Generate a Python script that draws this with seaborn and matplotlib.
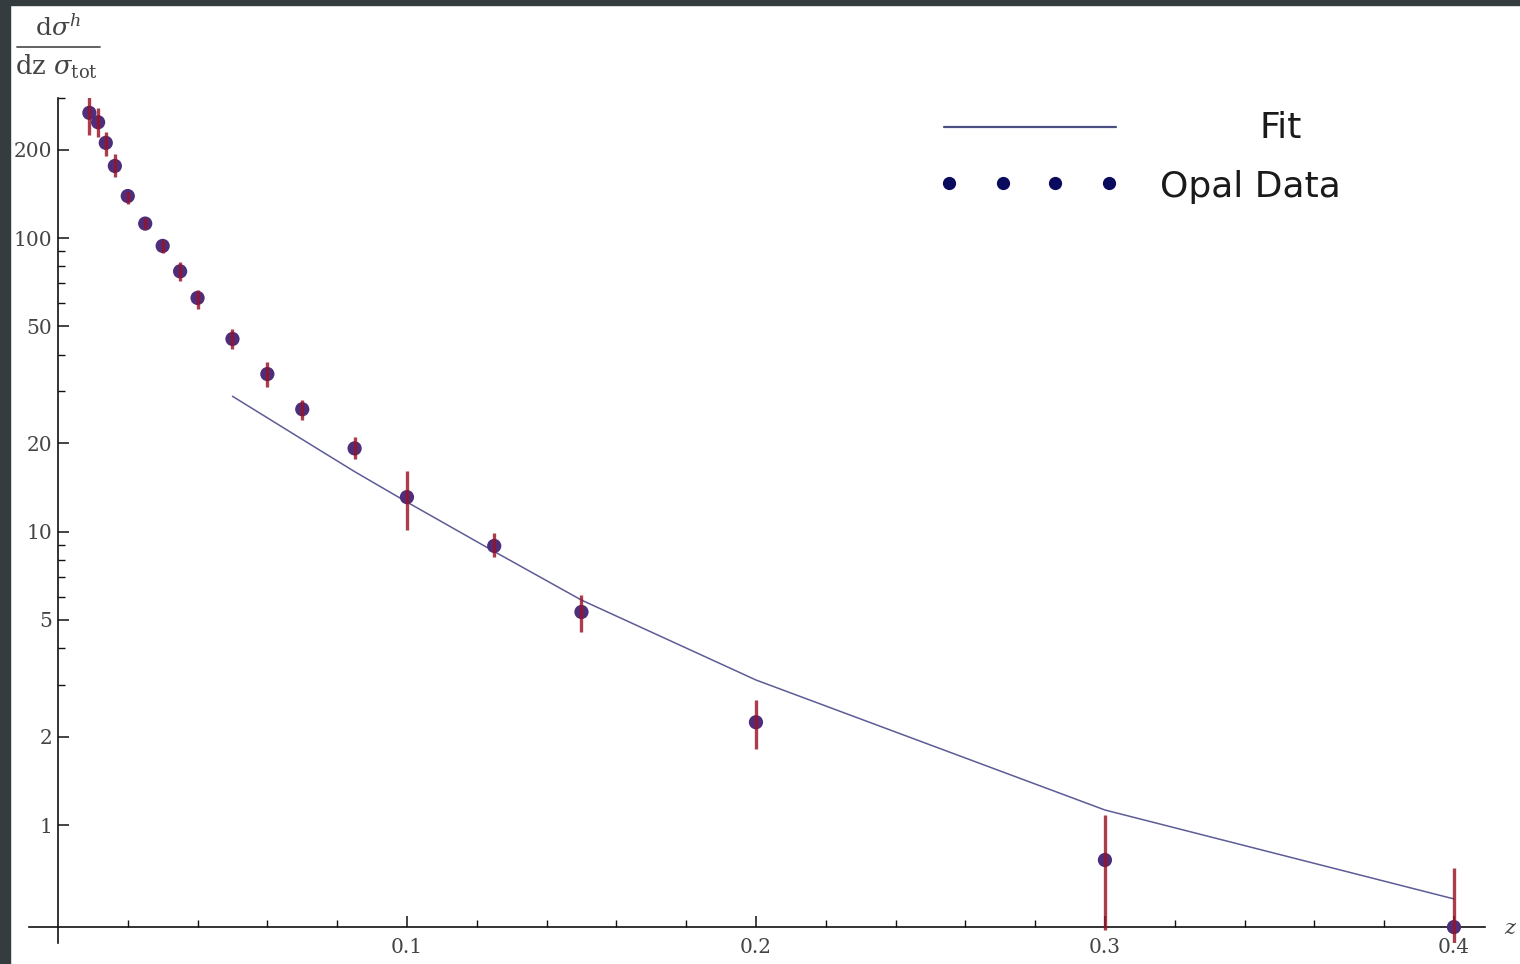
import numpy as np
import seaborn as sns
import matplotlib.pyplot as plt
from matplotlib.lines import Line2D
from matplotlib.patches import Rectangle
from matplotlib.ticker import FixedLocator, NullFormatter

# OPAL data
z_data = [0.009, 0.0115, 0.0137, 0.0163, 0.02, 0.025, 0.03, 0.035, 0.04, 0.05,
          0.06, 0.07, 0.085, 0.1, 0.125, 0.15, 0.2, 0.3, 0.4]
xs_data = [267, 248, 211, 176, 139, 112, 94, 77, 62.5, 45.3,
           34.4, 26.1, 19.2, 13.1, 8.93, 5.32, 2.24, 0.76, 0.449]
err_lo = [43, 27, 21, 15, 8, 4.5, 5, 5.5, 5, 3.3,
          3.3, 2.1, 1.6, 3.0, 0.75, 0.77, 0.43, 0.32, 0.265]
err_hi = [40, 29, 19, 17, 5, 5, 4.5, 5.8, 4, 3.7,
          3.4, 2.0, 1.8, 3.0, 0.97, 0.76, 0.43, 0.32, 0.265]

# fit evaluated at the data points
z_fit = [0.05, 0.06, 0.07, 0.085, 0.1, 0.125, 0.15, 0.2, 0.3, 0.4]
xs_fit = [28.9, 24.4, 20.6, 16.0, 12.6, 8.55, 5.84, 3.12, 1.125, 0.56]

y_major = [1, 2, 5, 10, 20, 50, 100, 200]
y_minor = [3, 4, 6, 7, 8, 9, 30, 40, 60, 70, 80, 90, 300]
x_major = [0.1, 0.2, 0.3, 0.4]
x_minor = [0.02, 0.04, 0.06, 0.08, 0.12, 0.14, 0.16, 0.18, 0.22, 0.24, 0.26,
           0.28, 0.32, 0.34, 0.36, 0.38]

sns.set_theme(style="white")
plt.rcParams['mathtext.fontset'] = 'dejavuserif'

W, H = 1520, 964
fig = plt.figure(figsize=(W / 100, H / 100), dpi=100)
fig.patch.set_facecolor("white")
# dark frame of the screenshot
fig.add_artist(Rectangle((0, 0), 10 / W, 1, transform=fig.transFigure, color="#353c3f", zorder=0))
fig.add_artist(Rectangle((0, 1 - 5 / H), 1, 5 / H, transform=fig.transFigure, color="#353c3f", zorder=0))

ax = fig.add_axes([29 / W, 1 - 943 / H, (1485 - 29) / W, (943 - 98) / H])
ax.set_facecolor("white")
ax.set_yscale("log")
ax.set_xlim(-0.0083, 0.4089)
ax.set_ylim(0.3963, 300)

# fit line
sns.lineplot(x=z_fit, y=xs_fit, ax=ax, color="#5c5c96", linewidth=1.1, zorder=2)

# data points + error bars
sns.scatterplot(x=z_data, y=xs_data, ax=ax, color="#4e2e7a", s=105, edgecolor="none", zorder=3)
lo = np.array(xs_data) - np.array(err_lo)
hi = np.array(xs_data) + np.array(err_hi)
lo = np.where(lo <= 0, 0.1, lo)
ax.vlines(z_data, lo, hi, color="#9a1226", linewidth=2.4, alpha=0.82, zorder=4)

# axes in Mathematica style
for s in ["top", "right"]:
    ax.spines[s].set_visible(False)
ax.spines["left"].set_position(("data", 0))
ax.spines["bottom"].set_position(("data", 0.4493))
for s in ["left", "bottom"]:
    ax.spines[s].set_color("#111111")
    ax.spines[s].set_linewidth(1.2)
    ax.spines[s].set_zorder(1)

ax.yaxis.set_major_locator(FixedLocator(y_major))
ax.yaxis.set_minor_locator(FixedLocator(y_minor))
ax.yaxis.set_minor_formatter(NullFormatter())
ax.set_yticklabels([str(v) for v in y_major])
ax.xaxis.set_major_locator(FixedLocator(x_major))
ax.xaxis.set_minor_locator(FixedLocator(x_minor))
ax.xaxis.set_minor_formatter(NullFormatter())
ax.set_xticklabels([str(v) for v in x_major])

ax.tick_params(axis="both", which="both", bottom=True, left=True, top=False, right=False)
ax.tick_params(axis="both", which="major", direction="in", length=8, width=1.1,
               color="#111111", labelsize=14.5, labelcolor="#444444")
ax.tick_params(axis="both", which="minor", direction="in", length=5, width=1.0, color="#111111")
ax.tick_params(axis="y", which="both", pad=4)
ax.tick_params(axis="x", which="both", pad=8)
for lab in ax.get_xticklabels() + ax.get_yticklabels():
    lab.set_family("DejaVu Serif")
ax.grid(False)

# axis labels
fig.text(1510 / W, 1 - 928 / H, "z", fontsize=15, style="italic", family="DejaVu Serif",
         color="#444444", ha="center", va="center")
fig.text(58 / W, 1 - 36 / H, r"$\mathrm{d}\sigma^{h}$", fontsize=18, color="#444444",
         ha="center", va="baseline")
fig.add_artist(Line2D([17 / W, 100 / W], [1 - 47 / H, 1 - 47 / H], transform=fig.transFigure,
                      color="#555555", linewidth=1.3))
fig.text(15 / W, 1 - 75 / H, r"$\mathrm{dz}\ \sigma_{\mathrm{tot}}$", fontsize=18.5, color="#444444",
         ha="left", va="baseline")

# legend
fig.add_artist(Line2D([944 / W, 1116 / W], [1 - 127 / H, 1 - 127 / H], transform=fig.transFigure,
                      color="#4a4f82", linewidth=1.6))
for px in [949, 1003, 1055, 1109]:
    fig.add_artist(Line2D([px / W], [1 - 183 / H], transform=fig.transFigure, linestyle="none",
                          marker="o", markersize=8.5, color="#0b0b5e"))
fig.text(1281 / W, 1 - 128 / H, "Fit", fontsize=26, family="DejaVu Sans", color="#1a1a1a",
         ha="center", va="center")
fig.text(1250 / W, 1 - 187 / H, "Opal Data", fontsize=26, family="DejaVu Sans", color="#1a1a1a",
         ha="center", va="center")

fig.savefig("out.png", dpi=100)
